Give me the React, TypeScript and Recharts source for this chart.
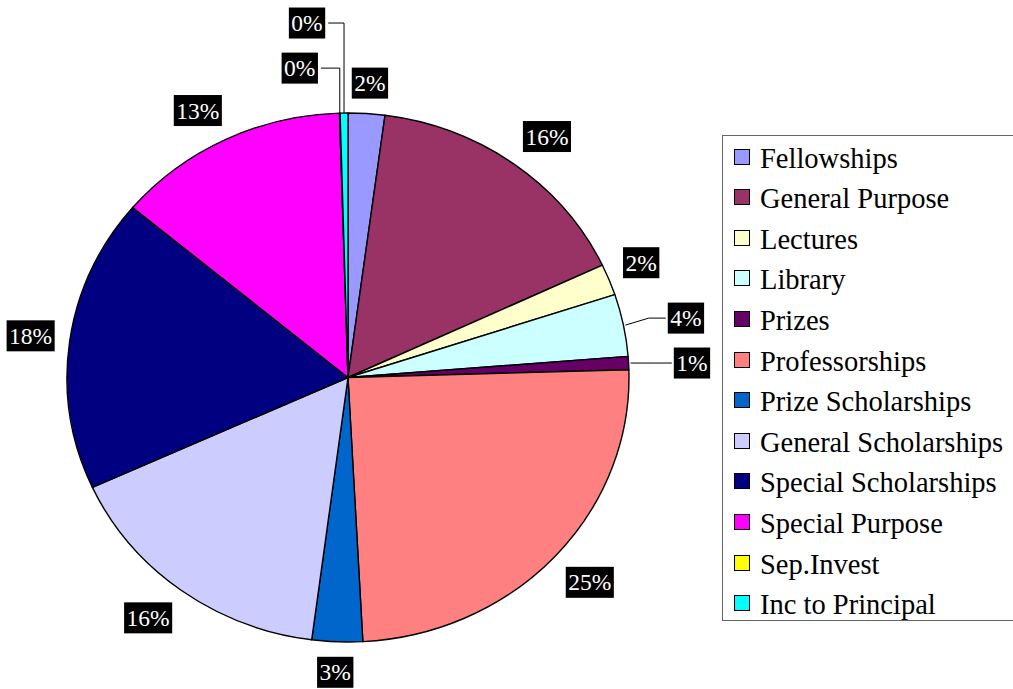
import React from 'react';
import { PieChart, Pie, Cell, Legend } from 'recharts';

// ---- data ----
const categories = [
  'Fellowships',
  'General Purpose',
  'Lectures',
  'Library',
  'Prizes',
  'Professorships',
  'Prize Scholarships',
  'General Scholarships',
  'Special Scholarships',
  'Special Purpose',
  'Sep.Invest',
  'Inc to Principal',
];
const shares = [2.1, 15.9, 1.9, 3.8, 0.8, 24.6, 2.9, 16.1, 17.9, 13.4, 0.03, 0.45];
const colors = [
  '#9999FF', '#993366', '#FFFFCC', '#CCFFFF', '#660066', '#FF8080',
  '#0066CC', '#CCCCFF', '#000080', '#FF00FF', '#FFFF00', '#00FFFF',
];

const data = categories.map((name, i) => ({ name, value: shares[i] }));

// ---- layout / style ----
const W = 1013;
const H = 689;
const CX = 348;
const CY = 377.5;
const RX = 281;
const RY_RATIO = 264.5 / 281;
const FONT = "'Liberation Serif', 'Times New Roman', Times, serif";
const LABEL_FS = 23.5;
const BOX_H = 31;

// labels that were moved off their default spot, with leader lines
const labelNudge: Record<string, { dx: number; dy: number; leader: 'side' | 'top' }> = {
  Library: { dx: 62.5, dy: -7, leader: 'side' },
  Prizes: { dx: 63.4, dy: 0, leader: 'side' },
  'Sep.Invest': { dx: -40, dy: -45, leader: 'top' },
  'Inc to Principal': { dx: -37, dy: -90, leader: 'top' },
};

const RAD = Math.PI / 180;
const clamp = (v: number) => Math.max(-1, Math.min(1, v));

const renderSector = (props: any) => {
  const { cx, cy, outerRadius, startAngle, endAngle, fill } = props;
  const rx = outerRadius;
  const ry = outerRadius * RY_RATIO;
  const x1 = cx + rx * Math.cos(startAngle * RAD);
  const y1 = cy - ry * Math.sin(startAngle * RAD);
  const x2 = cx + rx * Math.cos(endAngle * RAD);
  const y2 = cy - ry * Math.sin(endAngle * RAD);
  const delta = Math.abs(endAngle - startAngle);
  const large = delta > 180 ? 1 : 0;
  const sweep = startAngle > endAngle ? 1 : 0;
  const d = `M${cx},${cy} L${x1},${y1} A${rx},${ry} 0 ${large} ${sweep} ${x2},${y2} Z`;
  return <path d={d} fill={fill} stroke="#000" strokeWidth={1.4} strokeLinejoin="round" />;
};

const renderLabel = (props: any) => {
  const { cx, cy, midAngle, outerRadius, percent } = props;
  const name: string = props.name ?? props.payload?.name;
  const text = `${Math.round(percent * 100)}%`;
  const digits = text.length - 1;
  const tw = (digits * 0.5 + 0.833) * LABEL_FS;
  const bw = tw + 5;
  const hw = bw / 2;
  const hh = BOX_H / 2;
  const rx = outerRadius;
  const ry = outerRadius * RY_RATIO;
  const ux = Math.cos(midAngle * RAD);
  const uy = -Math.sin(midAngle * RAD);
  const px = cx + rx * ux;
  const py = cy + ry * uy;
  let lx: number;
  let ly: number;
  let leader: React.ReactNode = null;
  const nudge = labelNudge[name];
  if (nudge) {
    lx = px + nudge.dx;
    ly = py + nudge.dy;
    if (nudge.leader === 'side') {
      const ex = lx - hw - 2;
      const pts = `${px + 2},${py} ${ex - 17},${ly} ${ex},${ly}`;
      leader = <polyline points={pts} fill="none" stroke="#000" strokeWidth={1} />;
    } else {
      const ex = lx + hw + 3;
      const pts = `${px},${py} ${px},${ly} ${ex},${ly}`;
      leader = <polyline points={pts} fill="none" stroke="#000" strokeWidth={1} />;
    }
  } else {
    lx = px + ux * 15 + hw * clamp(2 * ux);
    ly = py + uy * 15 + hh * clamp(2 * uy);
  }
  return (
    <g key={`lbl-${name}`}>
      {leader}
      <rect x={lx - hw} y={ly - hh} width={bw} height={BOX_H} fill="#000" />
      <text
        x={lx}
        y={ly + LABEL_FS * 0.34}
        textAnchor="middle"
        fill="#fff"
        fontFamily="Liberation Serif"
        style={{ fontFamily: FONT, fontSize: LABEL_FS }}
      >
        {text}
      </text>
    </g>
  );
};

const renderLegend = (props: any) => {
  const payload = [...(props.payload || [])].sort(
    (a: any, b: any) => categories.indexOf(a.value) - categories.indexOf(b.value)
  );
  return (
    <div
      style={{
        position: 'relative',
        width: W - 722,
        height: 486,
        borderTop: '1px solid #666',
        borderLeft: '1px solid #666',
        borderBottom: '1px solid #666',
        boxSizing: 'border-box',
        background: '#fff',
        fontFamily: FONT,
        fontSize: 28.5,
        color: '#000',
      }}
    >
      {payload.map((entry: any, i: number) => (
        <div
          key={entry.value}
          style={{
            position: 'absolute',
            left: 11,
            top: 2.5 + i * 40.6,
            height: 40,
            display: 'flex',
            alignItems: 'center',
            whiteSpace: 'nowrap',
          }}
        >
          <span
            style={{
              display: 'inline-block',
              width: 14,
              height: 14,
              border: '1px solid #000',
              background: entry.color,
              marginRight: 10,
              transform: 'translateY(-2px)',
            }}
          />
          <span style={{ fontFamily: FONT }}>{entry.value}</span>
        </div>
      ))}
    </div>
  );
};

export default function App() {
  return (
    <div
      style={{
        position: 'absolute',
        left: 0,
        top: 0,
        width: W,
        height: H,
        overflow: 'hidden',
        background: '#fff',
        fontFamily: FONT,
      }}
    >
      <PieChart width={W} height={H} margin={{ top: 0, right: 0, bottom: 0, left: 0 }}>
        <Pie
          data={data}
          dataKey="value"
          nameKey="name"
          cx={CX}
          cy={CY}
          outerRadius={RX}
          startAngle={90}
          endAngle={-270}
          stroke="#000"
          strokeWidth={1.4}
          isAnimationActive={false}
          labelLine={false}
          label={renderLabel}
          shape={renderSector}
        >
          {data.map((d, i) => (
            <Cell key={d.name} fill={colors[i]} />
          ))}
        </Pie>
        <Legend
          layout="vertical"
          align="right"
          verticalAlign="top"
          itemSorter={null as any}
          content={renderLegend}
          wrapperStyle={{ left: 722, top: 135, width: W - 722, height: 486 }}
        />
      </PieChart>
    </div>
  );
}
